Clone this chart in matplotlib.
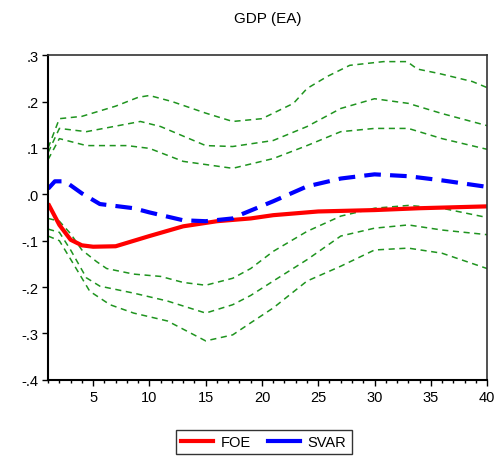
import matplotlib
matplotlib.use("Agg")
import matplotlib.pyplot as plt
from matplotlib.ticker import MultipleLocator, FixedLocator
from matplotlib.lines import Line2D

plt.rcParams['font.family'] = ['Liberation Sans', 'DejaVu Sans']

# horizon points where values were read
h_foe = [1, 2, 3, 4, 5, 7, 10, 13, 16, 19, 21, 25, 30, 34, 40]
foe = [-0.02, -0.066, -0.098, -0.11, -0.113, -0.112, -0.09, -0.069, -0.058, -0.052, -0.045, -0.037, -0.034, -0.030, -0.026]

h_svar = [1, 1.6, 2.5, 4, 5.6, 8.6, 10, 13, 15, 17.4, 18, 21, 24, 27, 30, 33, 36, 40]
svar = [0.012, 0.028, 0.028, 0.002, -0.021, -0.030, -0.039, -0.056, -0.058, -0.052, -0.045, -0.015, 0.017, 0.034, 0.043, 0.039, 0.030, 0.016]

h_up_out = [1, 2, 4, 7, 9, 10, 12, 15, 17.4, 20, 22.8, 24, 25.8, 27.8, 30.8, 32.9, 33.8, 35.8, 38.7, 40]
up_out = [0.10, 0.163, 0.168, 0.19, 0.209, 0.213, 0.20, 0.175, 0.157, 0.163, 0.196, 0.228, 0.254, 0.278, 0.286, 0.286, 0.27, 0.26, 0.243, 0.23]

h_up_mid = [1, 2, 4.4, 9.2, 11, 15, 17.4, 21, 24, 27, 30, 33, 36, 40]
up_mid = [0.09, 0.142, 0.135, 0.157, 0.146, 0.105, 0.103, 0.116, 0.146, 0.185, 0.206, 0.196, 0.174, 0.148]

h_up_in = [1, 2, 4.4, 8, 10, 13, 17.4, 21, 24, 27, 30, 33, 36, 40]
up_in = [0.075, 0.12, 0.105, 0.105, 0.099, 0.071, 0.056, 0.077, 0.105, 0.135, 0.142, 0.142, 0.12, 0.097]

h_lo_in = [1, 2, 3, 4, 5.3, 6.2, 8.6, 11, 13, 15, 17.4, 19, 21, 24, 27, 30, 33, 36, 40]
lo_in = [-0.052, -0.058, -0.085, -0.12, -0.145, -0.16, -0.172, -0.177, -0.19, -0.196, -0.181, -0.16, -0.123, -0.08, -0.047, -0.03, -0.024, -0.03, -0.05]

h_lo_mid = [1, 2, 3, 4.4, 5.6, 8.6, 11.6, 15, 17.4, 19, 21, 24, 27, 30, 33, 36, 40]
lo_mid = [-0.075, -0.082, -0.12, -0.18, -0.198, -0.213, -0.23, -0.256, -0.238, -0.218, -0.187, -0.141, -0.09, -0.073, -0.066, -0.077, -0.087]

h_lo_out = [1, 2, 3, 4.7, 6.5, 8.6, 11.6, 15, 17.4, 19, 21, 24, 27, 30, 33, 36, 40]
lo_out = [-0.09, -0.10, -0.14, -0.209, -0.238, -0.256, -0.273, -0.316, -0.303, -0.277, -0.245, -0.187, -0.155, -0.12, -0.116, -0.127, -0.16]

series_names = ['FOE', 'SVAR']

fig = plt.figure(figsize=(4.96, 4.6), dpi=100)
ax = fig.add_axes([0.097, 0.172, 0.885, 0.706])

green = '#1f941f'
for hx, vals in [(h_up_out, up_out), (h_up_mid, up_mid), (h_up_in, up_in),
                 (h_lo_in, lo_in), (h_lo_mid, lo_mid), (h_lo_out, lo_out)]:
    ax.plot(hx, vals, color=green, lw=1.1, dashes=(4, 3))

ax.plot(h_foe, foe, color='#ff0000', lw=3.0, solid_capstyle='butt')
ax.plot(h_svar, svar, color='#0000ff', lw=3.0, dashes=(4, 2.2))

ax.set_xlim(1, 40)
ax.set_ylim(-0.4, 0.3)
ax.xaxis.set_major_locator(FixedLocator([5, 10, 15, 20, 25, 30, 35, 40]))
ax.xaxis.set_minor_locator(MultipleLocator(1))
yt = [-0.4, -0.3, -0.2, -0.1, 0.0, 0.1, 0.2, 0.3]
ax.set_yticks(yt)
ax.set_yticklabels(['-.4', '-.3', '-.2', '-.1', '.0', '.1', '.2', '.3'])
ax.tick_params(axis='both', which='major', direction='out', length=4, width=1, labelsize=10.5, pad=3)
ax.tick_params(axis='x', which='minor', direction='out', length=2.5, width=1)
for s in ['left', 'bottom']:
    ax.spines[s].set_linewidth(1.5)
for s in ['top', 'right']:
    ax.spines[s].set_linewidth(1.2)
    ax.spines[s].set_color('#333333')

ax.set_title('GDP (EA)', fontsize=11, pad=24)

handles = [Line2D([], [], color='#ff0000', lw=3.0),
           Line2D([], [], color='#0000ff', lw=3.0)]
leg = fig.legend(handles, series_names, loc='center', bbox_to_anchor=(0.532, 0.037), ncol=2,
                 frameon=True, fancybox=False, edgecolor='black', fontsize=10.5,
                 handlelength=2.2, columnspacing=1.2, borderpad=0.35, handletextpad=0.5)
leg.get_frame().set_linewidth(1.0)

fig.savefig('out.png', dpi=100)
